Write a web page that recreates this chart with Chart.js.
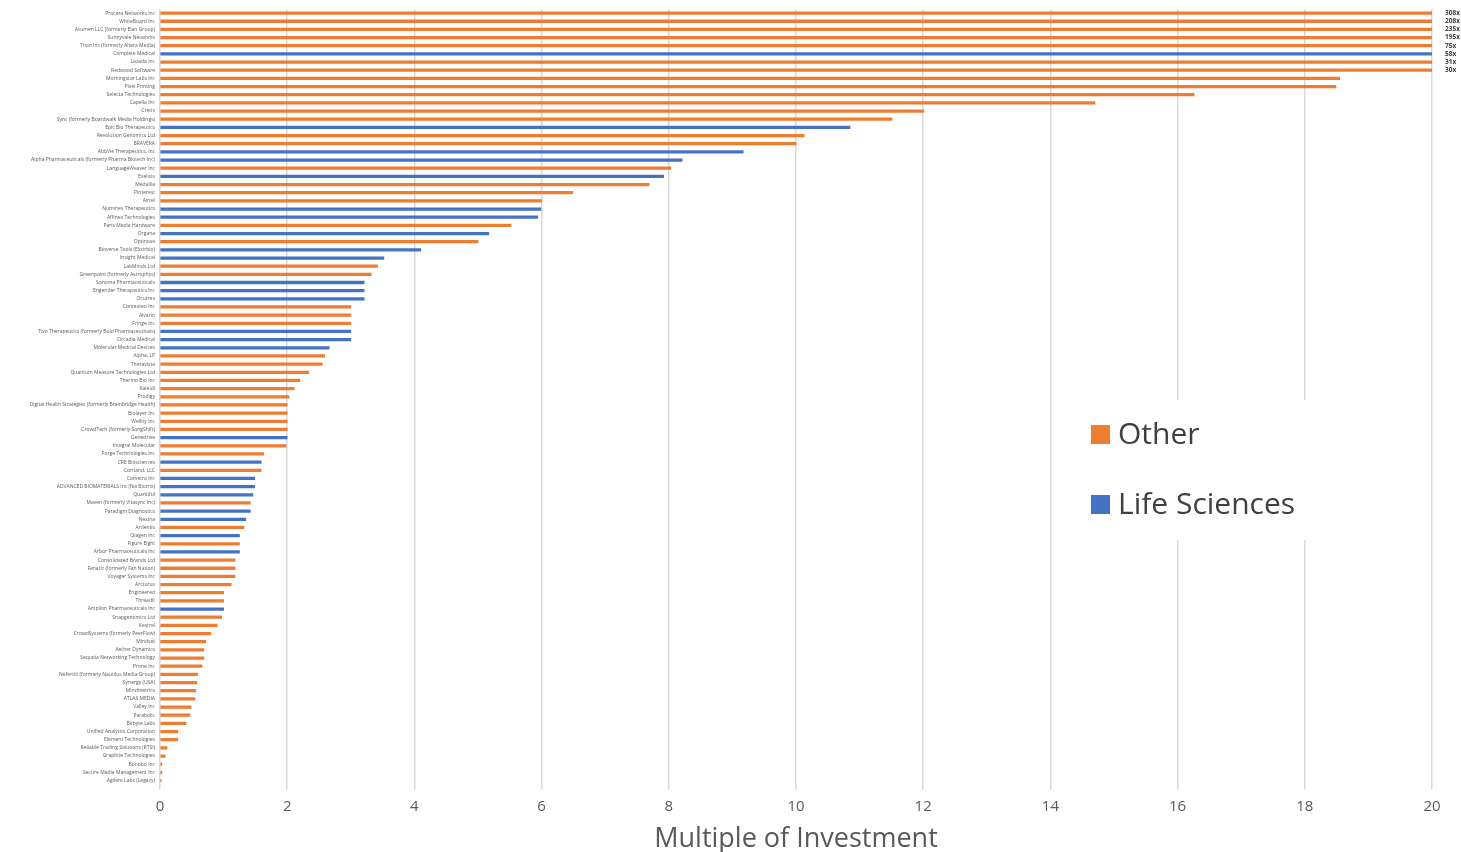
<!DOCTYPE html>
<html>
<head>
<meta charset="utf-8">
<script src="https://cdn.jsdelivr.net/npm/chart.js@4.4.1/dist/chart.umd.min.js"></script>
<style>
  html, body { margin: 0; padding: 0; background: #ffffff; }
  #wrap { width: 1461px; height: 852px; position: relative; }
</style>
</head>
<body>
<div id="wrap"><canvas id="c" width="1461" height="852"></canvas></div>
<script>
const categories = [
  "Procera Networks Inc", "WhiteBoard Inc", "Acumen LLC (formerly Elan Group)", "Sunnyvale Networks",
  "Trion Inc (formerly Altera Media)", "Complete Medical", "Lazada Inc", "Redwood Software",
  "Morningstar Labs Inc", "Pixel Printing", "Selecta Technologies", "Capella Inc",
  "Cretix", "Sync (formerly Boardwalk Media Holdings)", "Epic Bio Therapeutics", "Revolution Genomics Ltd",
  "BRAVERA", "AbbVie Therapeutics, Inc", "Alpha Pharmaceuticals (formerly Pharma Biotech Inc)", "LanguageWeaver Inc",
  "Exelixis", "Medallia", "Pinterest", "Airtel",
  "Numinex Therapeutics", "Affinex Technologies", "Paris Media Hardware", "Organa",
  "Optinose", "Bioverse Tools (Elixirbio)", "Insight Medical", "LabMinds Ltd",
  "Greenpoint (formerly Astrophys)", "Sonoma Pharmaceuticals", "Engender Therapeutics Inc", "Ocutrex",
  "Contexteo Inc", "Alvarin", "Fringe Inc", "Tivo Therapeutics (formerly Bold Pharmaceuticals)",
  "Circadia Medical", "Molecular Medical Devices", "Alpha, LP", "Theravista",
  "Quantum Measure Technologies Ltd", "Thermo Bio Inc", "Kaleidi", "Prodigy",
  "Digital Health Strategies (formerly Brainbridge Health)", "Biolayer Inc", "Wellny Inc", "CrowdTech (formerly SongShift)",
  "Genedrive", "Integral Molecular", "Forge Technologies Inc", "CRE Biosciences",
  "Cortland, LLC", "Cometra Inc", "ADVANCED BIOMATERIALS Inc (fka Biotrix)", "Quantiful",
  "Maven (formerly Vitasync Inc)", "Paradigm Diagnostics", "Nexina", "Ardentis",
  "Qiagen Inc", "Figure Eight", "Arbor Pharmaceuticals Inc", "Consolidated Brands Ltd",
  "Fanatic (formerly Fan Nation)", "Voyager Systems Inc", "Arcturus", "Engineered",
  "Threadit", "Amplion Pharmaceuticals Inc", "Snapgenomics Ltd", "Kestrel",
  "CrowdSystems (formerly PeerFlow)", "Mindset", "Aether Dynamics", "Sequoia Networking Technology",
  "Prime Inc", "Nefertiti (formerly Nautilus Media Group)", "Synergy (USA)", "Mindmetrics",
  "ATLAS MEDIA", "Valley Inc", "Parabolic", "Bitbyte Labs",
  "Unified Analytics Corporation", "Element Technologies", "Reliable Trading Solutions (RTSI)", "Graphite Technologies",
  "Bonobo Inc", "Secure Media Management Inc", "Agilent Labs (Legacy)"
];

const multiples = [
  308, 208, 235, 195, 75, 58, 31, 30,
  18.55, 18.49, 16.26, 14.70, 12.01, 11.51, 10.85, 10.13,
  10.0, 9.17, 8.21, 8.03, 7.92, 7.69, 6.49, 6.0,
  5.99, 5.94, 5.52, 5.17, 5.0, 4.10, 3.52, 3.42,
  3.32, 3.21, 3.21, 3.21, 3.0, 3.0, 3.0, 3.0,
  3.0, 2.66, 2.59, 2.55, 2.34, 2.2, 2.11, 2.03,
  2.0, 2.0, 2.0, 2.0, 2.0, 1.98, 1.63, 1.59,
  1.59, 1.49, 1.49, 1.46, 1.42, 1.42, 1.35, 1.32,
  1.25, 1.25, 1.25, 1.18, 1.18, 1.18, 1.12, 1.0,
  1.0, 1.0, 0.97, 0.9, 0.8, 0.72, 0.69, 0.69,
  0.66, 0.59, 0.58, 0.56, 0.55, 0.49, 0.47, 0.41,
  0.28, 0.28, 0.11, 0.08, 0.03, 0.03, 0.02
];

// O = Other, L = Life Sciences
const sectors = [
  "O","O","O","O","O","L","O","O",
  "O","O","O","O","O","O","L","O",
  "O","L","L","O","L","O","O","O",
  "L","L","O","L","O","L","L","O",
  "O","L","L","L","O","O","O","L",
  "L","L","O","O","O","O","O","O",
  "O","O","O","O","L","O","O","L",
  "O","L","L","L","O","L","L","O",
  "L","O","L","O","O","O","O","O",
  "O","L","O","O","O","O","O","O",
  "O","O","O","O","O","O","O","O",
  "O","O","O","O","O","O","O"
];

const xTicks = [0, 2, 4, 6, 8, 10, 12, 14, 16, 18, 20];
const seriesNames = ["Other", "Life Sciences"];
const seriesColors = ["#ED7D31", "#4472C4"];
const axisTitle = "Multiple of Investment";

const otherData = multiples.map((v, i) => sectors[i] === "O" ? v : null);
const lifeData = multiples.map((v, i) => sectors[i] === "L" ? v : null);

const overflowPlugin = {
  id: 'overflowLabels',
  afterDatasetsDraw(chart) {
    const ctx = chart.ctx;
    const xs = chart.scales.x, ys = chart.scales.y;
    ctx.save();
    ctx.font = 'bold 6.5px "Open Sans", sans-serif';
    ctx.fillStyle = '#404040';
    ctx.textBaseline = 'middle';
    ctx.textAlign = 'left';
    multiples.forEach((v, i) => {
      if (v > xs.max) {
        ctx.fillText(v + 'x', xs.right + 13, ys.getPixelForValue(i));
      }
    });
    ctx.restore();
  }
};

const legendPlugin = {
  id: 'boxLegend',
  afterDraw(chart) {
    const ctx = chart.ctx;
    ctx.save();
    ctx.fillStyle = '#ffffff';
    ctx.fillRect(1076, 400, 240, 140);
    ctx.font = '30px "Open Sans", sans-serif';
    ctx.textBaseline = 'middle';
    ctx.textAlign = 'left';
    const ys = [434, 504];
    seriesNames.forEach((n, k) => {
      ctx.fillStyle = seriesColors[k];
      ctx.fillRect(1091, ys[k] - 9, 19, 19);
      ctx.fillStyle = '#404040';
      ctx.fillText(n, 1118, ys[k] + 1);
    });
    ctx.restore();
  }
};

new Chart(document.getElementById('c'), {
  type: 'bar',
  data: {
    labels: categories,
    datasets: [
      { label: seriesNames[0], data: otherData, backgroundColor: seriesColors[0], grouped: false, barThickness: 2.6 },
      { label: seriesNames[1], data: lifeData, backgroundColor: seriesColors[1], grouped: false, barThickness: 2.6 }
    ]
  },
  options: {
    indexAxis: 'y',
    responsive: false,
    animation: false,
    devicePixelRatio: 1,
    layout: { padding: { top: 9, right: 29, left: 0, bottom: -4 } },
    plugins: { legend: { display: false }, tooltip: { enabled: false } },
    scales: {
      x: {
        min: 0, max: 20,
        afterBuildTicks(scale) { scale.ticks = xTicks.map(v => ({ value: v })); },
        grid: { color: '#d9d9d9', lineWidth: 1.5, tickLength: 5, drawTicks: true },
        border: { display: false },
        ticks: { color: '#595959', font: { size: 15, family: '"Open Sans", sans-serif' }, padding: 8 },
        title: { display: true, text: axisTitle, color: '#595959', font: { size: 27, family: '"Open Sans", sans-serif' }, padding: { top: 0, bottom: 0 } }
      },
      y: {
        afterFit(scale) { scale.width = 160; },
        grid: { display: false, drawTicks: false },
        border: { display: false },
        ticks: { autoSkip: false, color: '#595959', font: { size: 5, family: '"Open Sans", sans-serif' }, padding: 5 }
      }
    }
  },
  plugins: [overflowPlugin, legendPlugin]
});
</script>
</body>
</html>
